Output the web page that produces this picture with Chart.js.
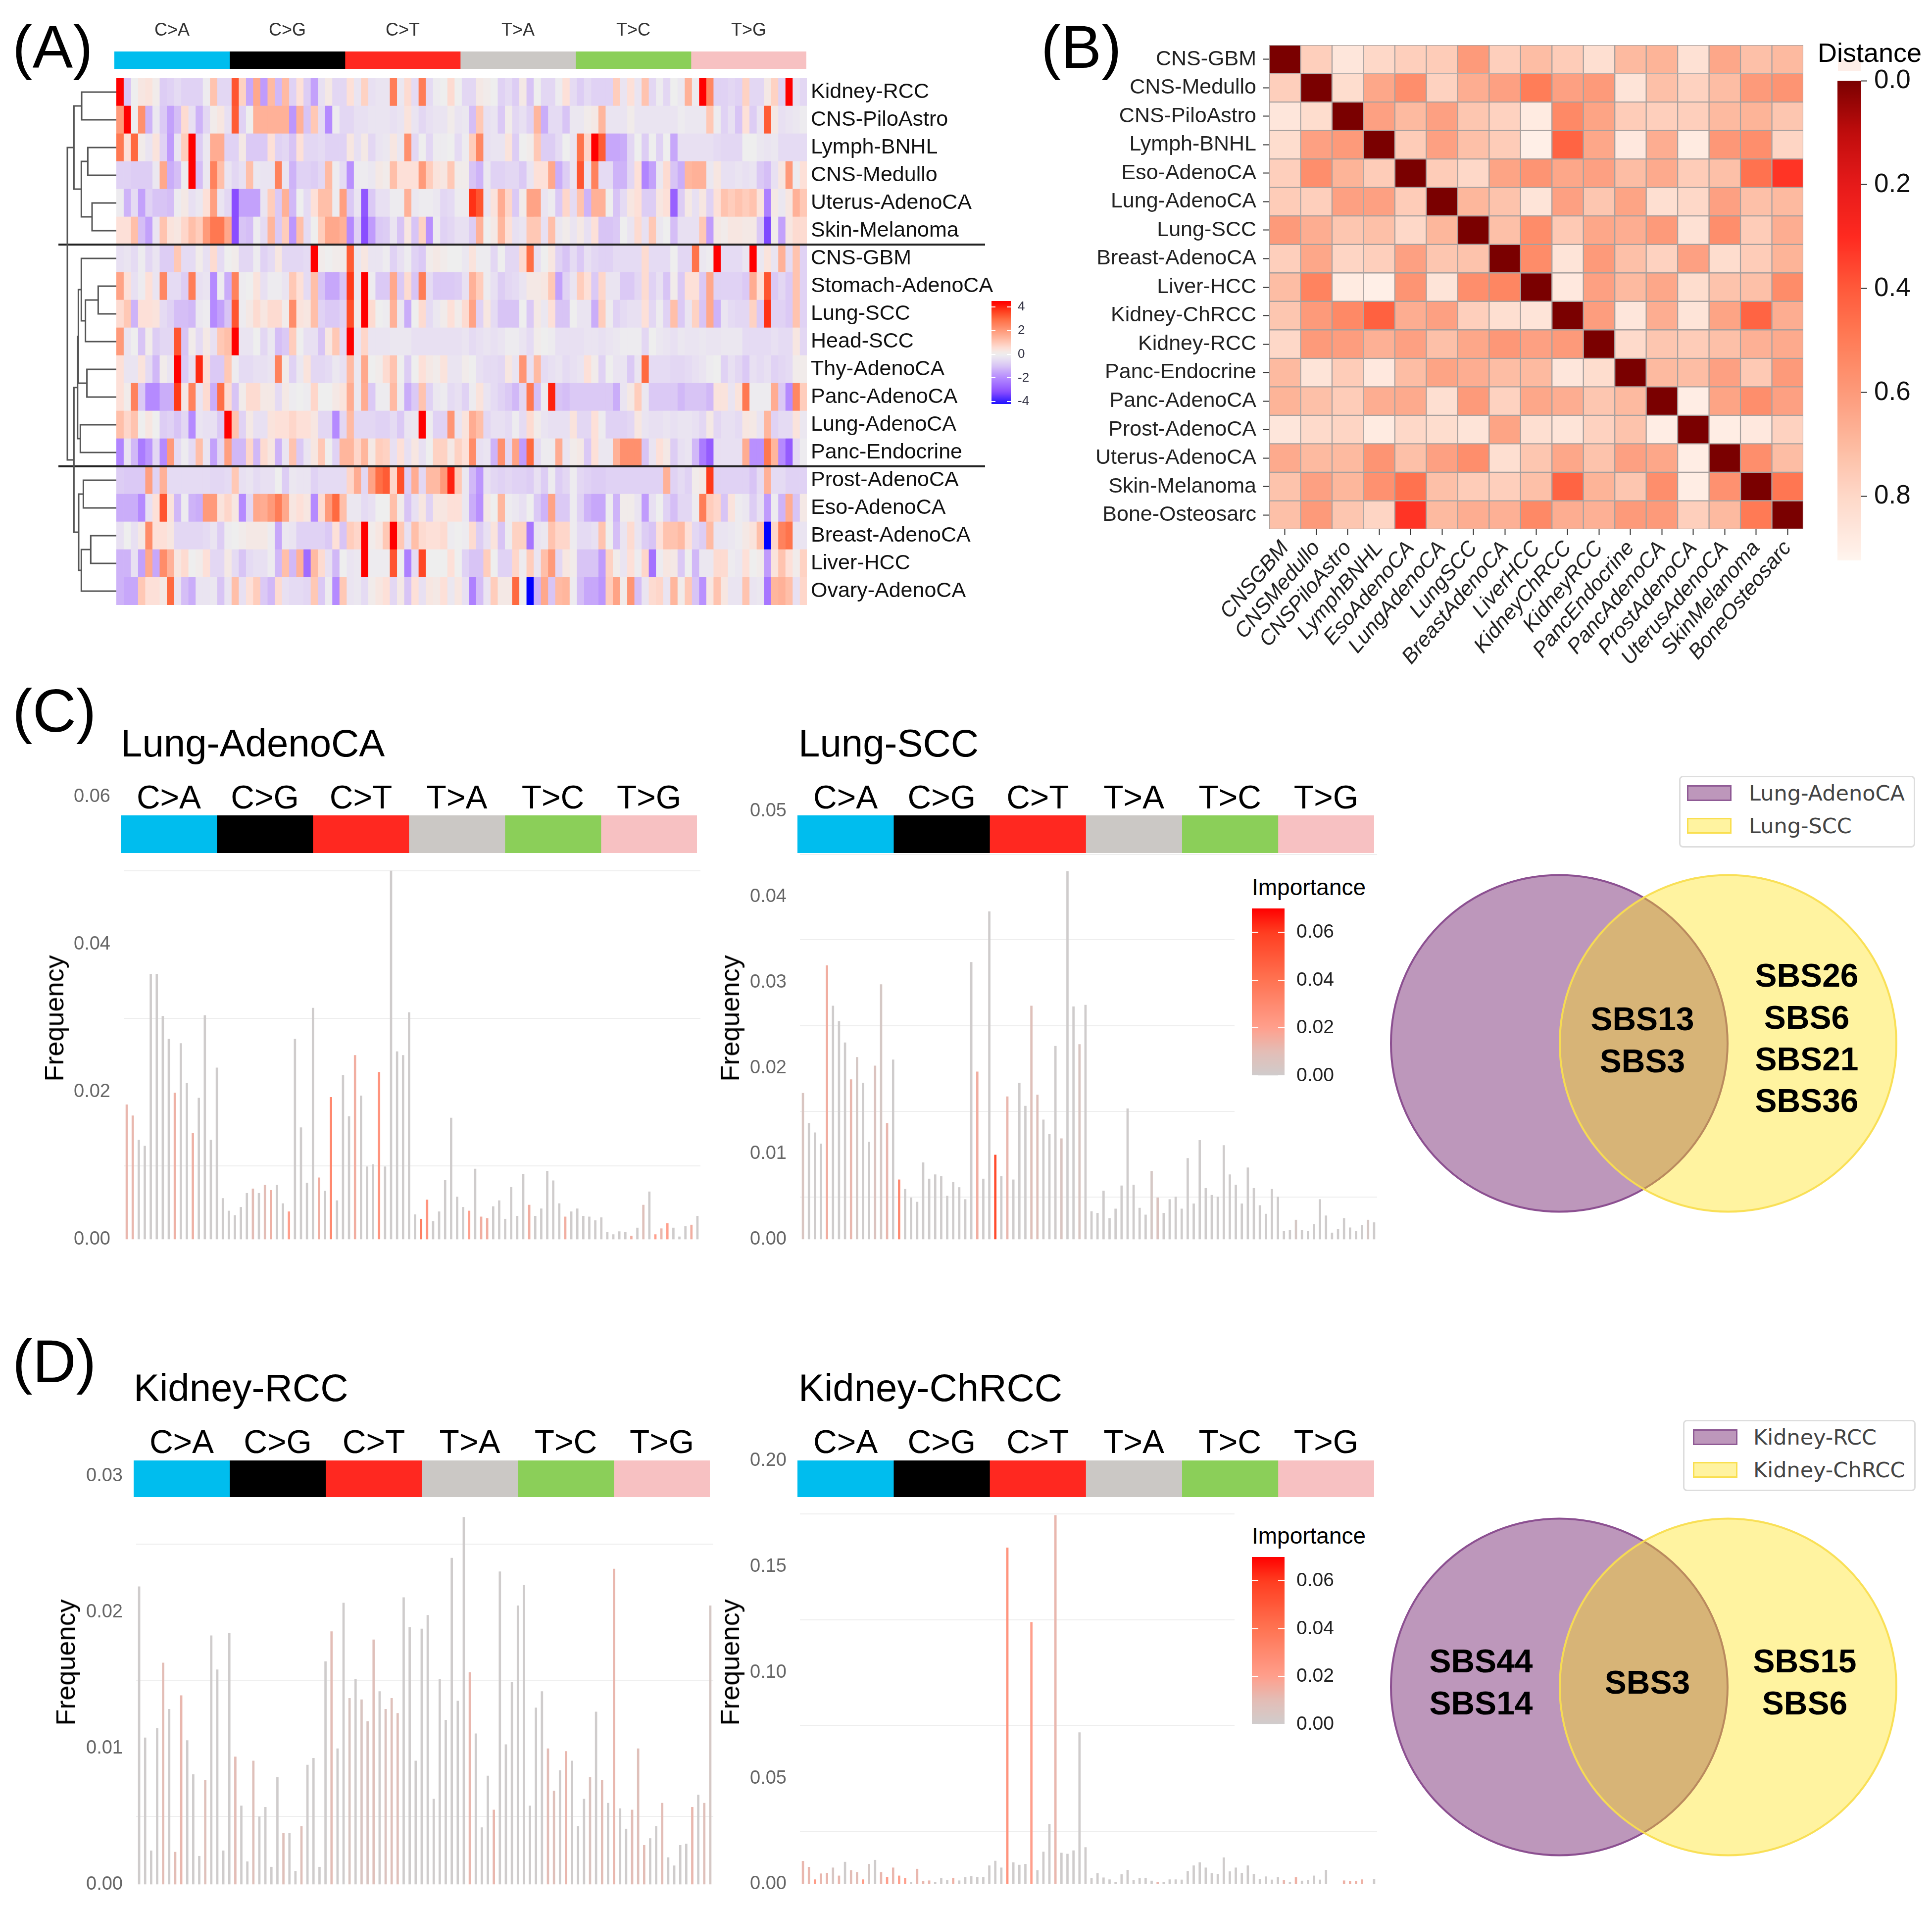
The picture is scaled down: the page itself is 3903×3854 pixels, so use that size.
<!DOCTYPE html>
<html lang="en">
<head>
<meta charset="UTF-8">
<title>Mutational signature panels</title>
<script src="https://cdn.jsdelivr.net/npm/chart.js"></script>
<style>
  body { margin: 0; background: #fff; position: relative; width: 3903px; height: 3854px; overflow: hidden; font-family: "Liberation Sans", sans-serif; }
  canvas { position: absolute; }
  .t { position: absolute; white-space: nowrap; line-height: 1; color: #000; }
</style>
</head>
<body>
<script>
// ---- data ----
const substitutionTypes = ['C>A', 'C>G', 'C>T', 'T>A', 'T>C', 'T>G'];
const substitutionWidths = [16, 16, 16, 16, 16, 16];
const substitutionColours = ['#00bdee', '#000000', '#ff2820', '#cbc8c5', '#8bcf59', '#f7c1c2'];

const heatRowNames = ['Kidney-RCC', 'CNS-PiloAstro', 'Lymph-BNHL', 'CNS-Medullo', 'Uterus-AdenoCA', 'Skin-Melanoma', 'CNS-GBM', 'Stomach-AdenoCA', 'Lung-SCC', 'Head-SCC', 'Thy-AdenoCA', 'Panc-AdenoCA', 'Lung-AdenoCA', 'Panc-Endocrine', 'Prost-AdenoCA', 'Eso-AdenoCA', 'Breast-AdenoCA', 'Liver-HCC', 'Ovary-AdenoCA'];

const zKidneyRCC = [4.4,-1,0,.3,.4,.1,-.8,-.7,-.5,-.7,-.7,-.7,-.1,1.1,-.6,-.6, 3.3,.8,-1.5,1.7,-1.7,1.3,-1.2,1.3,-.7,.5,-.8,-1.6,-.4,.2,-.6,-.6, .5,-.3,.8,-.4,-.3,-.3,2.6,-.2,.6,-.5,2.6,-.5,-.1,0,.6,0, -.6,-.6,.2,.1,0,-.7,-.5,-.8,.2,-1,0,-.6,-.6,-.1,.5,-.5, -.8,-.5,-.7,-.7,-.7,.9,-.3,.5,-.3,1.1,-.6,-.1,-.6,0,-.2,1.5, -.1,4.4,2.4,-.7,-.7,-.6,-.7,.8,-.6,-.6,.2,.8,-.7,4.4,-.4,-.6];
const zCNSPiloAstro = [2,4.4,0,2.2,-1.3,-.2,-.9,-1.6,-1.1,.6,-.4,-1.3,-.6,.1,.3,-.4, 3.2,-.7,0,1.5,1.5,1.5,1.5,1.5,-1.8,1.5,-1,1,-.5,-2,-.1,-.6, -.6,-.4,-.4,-.3,-.3,-.3,-.4,-.3,.4,-.3,-.6,-.4,-.3,-.3,.1,-.3, -.2,-1.1,1,-.4,-.3,-.9,.1,-.6,-.4,-.7,1.4,-1.4,-.5,-.5,-1,-.2, -.2,.1,.2,1.4,-.3,-.3,-.3,.1,-.3,-.3,-.3,-.3,-.3,-.3,-.1,-.2, -.2,-.2,1,-.1,-.7,-.4,-1,.5,-.8,-.3,3.2,.2,-.4,-.3,-.2,-.1];
const zLymphBNHL = [2.7,.5,3,.1,-.3,.4,-.7,-1.7,-.3,.9,4.4,-.8,-.2,1.6,1.6,-.7, -.7,.2,-.9,-.9,-.9,.5,-.7,-.6,-1,.5,-.6,-.6,-.5,-.7,-.7,-.7, .3,-.4,.2,-.6,-.3,-.2,.3,-.2,2.2,-.6,0,-.6,-.1,-.1,0,-.5, -.1,.9,2.4,-.4,-.3,-.3,.4,-.8,0,.1,1,-.8,-.8,-.5,0,-.3, 2.8,.7,4.5,3.2,-1.5,-1.5,-1.4,-.6,0,-.8,0,-.7,0,-1.5,-.4,-.4, -.4,-.4,-.4,-.5,-.6,-.6,-.6,0,0,-.2,-.3,-.2,-.5,-.5,-.5,-.5];
const zCNSMedullo = [-.7,-.7,-.8,-.8,-.8,-.2,1.7,-1.4,-1.1,-.1,4.4,-1.1,-.2,2.5,1.2,-.3, -.6,-.4,1.2,-.2,-.3,-.3,2.5,-.3,-1.3,-.7,-.7,-.8,-.6,1.3,-.1,-.5, -1.9,-.1,-.1,-.2,.2,.1,1.2,.5,.5,.5,2,.9,.4,.3,1,.1, .1,-1,-1.3,-.2,-.7,-.7,-.6,-.6,-.9,-.3,.5,.5,1.7,-1.4,-.8,-.3, 3.3,-.3,2.5,-.5,-.5,-1.3,-1.3,-.6,.5,-2.1,-1.6,-.2,.6,-1,-1.4,1.4, 1.5,1.5,-.2,.3,-.4,-.4,-.3,-.4,-.3,-.9,-1.1,-.4,.3,2,-.1,.5];
const zUterusAdenoCA = [-.1,-1.3,-.5,-1.6,-.7,-1,-1,-1.1,-.1,.2,-.4,-.2,.5,1.9,-.3,-.6, -3.2,-1.6,-1.6,-1.6,-.3,.9,-.9,1.5,-1.2,0,-.5,.5,1.2,1.2,-.1,1.9, -.9,-.3,-3,-.9,-.4,-.4,-.1,-.1,1.5,-.2,-.1,-.1,-.2,-.6,-.5,-.1, -.1,3.8,3.3,-.3,.4,1.6,.7,-.9,.1,1.8,1.8,-.3,-.1,-.9,.7,-.5, 1.1,-1.3,1.5,1.5,0,-1,-.5,.3,.5,-.8,-.8,.3,.5,-2.8,-.8,.2, -.4,.3,-.7,.5,1.1,.9,1.1,.9,1.1,.4,-2.2,.2,-.2,.3,1.5,1];
const zSkinMelanoma = [.5,.5,1.2,-1.1,-1.6,-.3,1.1,.4,.3,.7,1.2,.9,2,2.7,2.7,1.7, -3.2,-1,-1.1,-.1,-.5,1.4,-.9,.9,-1.8,1.2,-.5,0,.9,1.7,1.7,1.5, -2,-.7,-3.2,-1.7,-.9,-.8,-.3,-1,.3,-1,.8,-1.9,-.1,-.7,-.6,-.4, -.4,-.8,1.5,0,.2,1.4,.5,-.4,-.3,1,1,-.4,1.2,-.2,.1,-.3, .2,-.4,.5,-1,-1,-.9,0,-.3,.6,-.4,1,-.2,0,-1.1,-.4,-.4, -.4,1,-1.7,.2,.1,.3,.3,.2,.2,-.9,-3.3,.1,-1.6,.3,.6,.6];
const zCNSGBM = [-.4,-.3,-.5,-.1,-.6,-.3,-.8,-.8,1,-.5,-.5,.1,-.4,.6,-.5,0, .1,-.6,-.6,-.1,-.7,-.5,.3,-.6,-.6,-.6,-.5,4.4,.1,0,.1,.1, 3.2,-.2,.3,-.3,-.3,-.1,-.7,-.4,-.1,-.7,-.9,.1,.2,.1,0,0, -.2,.4,-.1,-.1,-.6,0,-.6,-.6,.6,2.9,-.4,0,.3,-.7,-1,-.5, -.9,-.4,-.6,-.7,-.7,-.5,-.5,-.5,-.5,.6,-.5,-.5,-.5,0,-.6,-.6, 2.8,-.2,-.1,4.4,-.5,-.5,-.5,-.3,4.4,-.2,.4,-.3,1.5,-.5,1.1,-.7];
const zStomachAdenoCA = [1.8,.5,-.4,-.1,.5,-.3,2.4,-.5,-.5,-.8,2.6,-.4,-.3,-2,-.1,-1.4, 2.5,-.1,0,.4,-.4,-.1,-.1,-.3,1,.5,-.5,1.2,-1,-1.5,-1.5,-1, 3.7,-.2,4.4,-.1,-.9,-.9,1.7,-.9,.6,-1,2.6,-.5,-.9,-.9,-.9,-.8, -.4,1.5,.9,-.1,-.4,-.8,-.6,-.5,-.3,.2,.2,.3,1,-1.6,-.7,-.3, .9,.5,-.9,.7,-.3,-.3,-.9,-.9,-.6,.6,-.7,-.4,-1,.1,-.9,.5, .5,-.9,1.7,-.7,-.7,-.7,-.7,-.9,1.6,.5,3.3,-.9,-.6,-.9,1.1,-.7];
const zLungSCC = [.6,1,-1.3,.5,.5,.4,-.5,-.7,-1.1,-1.1,-1.2,-.2,-.1,-2,-1.6,-1, 3.3,-.1,.2,.6,.3,.6,.6,.1,2.3,.4,.3,1.2,-.7,-.9,-.9,-.7, 3.4,.1,4.4,.6,0,-.1,1.5,-.2,-1.4,0,.6,-.5,-.2,.1,.5,.1, .6,1.8,-.7,.3,-.5,-1,-1,-1,0,-.9,.2,-.2,.5,-1,-1,0, -.3,-.3,-1.4,.9,-.1,-.7,-.5,-.4,-.4,.5,-.6,-.1,-.7,1.2,-.9,-.3, .8,-1,1.7,-1.3,-.3,-.5,-.6,-.6,.8,-.9,3.8,-.7,-.7,-.9,1.1,-.7];
const zHeadSCC = [2,-.3,0,-1,.1,-.8,-.6,-.6,3.3,-1,.1,-.5,.2,-.4,1,1.2, 4.4,-.3,-.3,0,-.6,-.2,-1.1,-.9,.9,0,-.4,-.4,-1,.3,1,-.6, 4.4,-.3,.7,-.3,-.3,-.3,-.2,-.2,-.2,-.4,-.4,-.4,-.4,-.4,-.4,-.4, -.3,-.5,-.4,-.3,-.4,-.3,-.1,-.1,-.3,-.5,.1,0,-.1,-.4,-.4,-.4, -.4,-.3,-.3,-.4,-.3,-.2,-.1,-.1,-.1,-.6,0,-.2,-.3,-.4,-.2,-.3, -.3,-.2,-.3,-.3,-.2,-.2,-.2,-.5,-.5,-.5,-.5,-.4,-.5,-.5,.3,-.6];
const zThyAdenoCA = [.5,-.3,-.3,.4,-.5,-1.2,.1,-.3,4.4,-.9,-.4,3.9,.5,-.9,-.9,1, -.1,-.5,-.5,-.4,-.4,-.3,2.5,.1,-.7,-.2,.4,-.6,-.6,-.5,-.2,-.4, 1.3,-.2,1.7,0,.1,.6,1.1,0,-.8,0,.5,.2,.1,.4,-.3,-.3, .1,0,-.4,-.5,-.5,-.6,.3,-.3,2.1,-.4,1.3,-.5,-.4,-.3,-.5,-.4, -.3,.5,.1,-.7,0,-.3,-.3,-.9,-.3,3,-.5,-.5,-.5,-.6,-.6,-.5, -.4,-.3,-.1,0,-.7,-.4,-.6,-.9,-.4,-.5,-.4,-.7,-.6,-.5,.1,.1];
const zPancAdenoCA = [.5,.1,2.5,-.9,-2,-2,-1.4,-1.4,3.7,.2,2.5,-.3,.6,-1.4,2.9,.6, -1,.1,.6,.6,.2,.2,-.5,.2,-.1,0,-.1,.7,0,0,.2,.4, 1.6,-.2,1.6,-.9,-.1,-.1,1.3,-.1,-1.4,-.9,1.1,-.7,-.2,-.1,-.5,-.4, -.7,-.1,.4,-.3,-.5,-.7,-.9,-1.2,-.6,2.7,-1.1,-.1,4,-1,-1.1,-.9, -.9,-.9,-.9,-.9,-.9,-1.4,-.3,.2,.9,-.2,-.9,-.9,-.9,-.9,-1.2,-1, -1,-1,-1.2,.4,.4,-.3,.4,2.7,-.1,-.1,-.1,1.6,-.9,-2,2.4,.9];
const zLungAdenoCA = [1.2,.7,1.1,0,.3,0,-.8,-.7,-1,-.6,-2,-.3,-.4,-.4,-.9,4.4, 1.1,-.7,.2,-.4,-.4,.4,.5,.5,.7,.5,.5,.3,-.6,-.6,-2,-.6, 1.3,-.6,-.6,-.6,-.7,-.7,-.5,-.9,-.3,-.2,4.4,-.1,-.7,-.7,2.1,-.3, .4,1.6,1.2,-.6,-.4,-.4,-.5,-.1,-.5,.6,.1,-.3,-.4,-.4,-.4,.4, -.6,-.6,.5,-.1,-.7,-.7,-.7,-.6,.3,-.3,-.4,-.4,-.3,-.4,-.3,-.3, -.4,-.6,.2,-.6,-.4,-.4,-.5,.3,.2,-.3,1.4,-.7,-.5,-.5,.4,-.2];
const zPancEndocrine = [-2.1,-.3,-1.2,-2.3,-1.8,-.6,-2,2,-.5,-.1,-.5,1.2,-.3,-1.6,-.6,1.9, -1.2,-1.2,.7,-1.2,.6,.3,-1.3,-.3,1.1,-.9,-.3,.3,1,0,-.7,1.4, 1.4,.7,1.4,.2,.9,.8,-.4,.5,-.4,.3,-.4,0,.8,.8,.2,.8, .5,2.3,-.4,-.3,-1.3,2.2,-.6,1.8,-1.7,3,-.5,-.1,-.1,1.6,-.3,.1, .2,-.9,.5,-.2,-.2,1.5,2.2,2.2,2.2,-1,-.3,.5,.2,-.8,-.4,-.3, -1.2,-2.3,-2.9,-.4,-.4,-.4,-.4,1.6,-1.9,-1.9,2.7,1.4,-2,-2.9,-.5,-.1];
const zProstAdenoCA = [-.8,-.9,-.9,-.9,1.9,-.7,1.5,-.5,-.5,-.5,-.5,-.5,-.5,-.6,-.6,-.5, 1,-.4,-.3,-.5,-.4,-.4,0,-.8,-.2,-.3,-.3,-.7,-.5,-.5,-.5,-.5, .7,1.6,-.6,1.8,2.9,3.2,.7,3.4,-.8,1.6,-.6,1.3,1.3,2,4,1, -.2,-1.2,-1.8,-.4,-.6,-.7,-.6,-.7,-.7,-.8,-.4,-.8,-.1,-.8,-.6,-.1, -.6,-.7,-.8,-.8,-.7,-.7,-.7,-.7,-.7,-.7,-.7,-.7,1.5,-.7,-.5,-.7, .1,.2,3.7,-.7,-.7,-.7,-.7,-.7,-1,-.5,1.5,-.5,-.5,-.7,-.7,-.7];
const zEsoAdenoCA = [-1.4,-1.4,-1.4,-2,-.4,.5,3.3,.4,-1.2,-.1,-1.3,-1.4,2,2,.4,.7, .3,-2,-.6,1.7,1.6,2,2.6,1.7,.3,.5,.3,-2,.6,2,3,1.2, -.2,-.2,-.5,-.4,0,0,1.2,.1,-1,-.4,.3,-.7,.3,.3,.5,.5, -.2,-1.4,-1.9,.2,0,1.4,-.1,-.2,-.4,0,-.9,-1.3,1.8,-.9,-.9,-.1, -.7,-1.3,-1.5,-1.5,-.1,-1.3,.1,.1,-.3,-1.7,-.4,0,-.7,-1.1,-.6,-.6, -.1,2.6,.9,.7,-1,.4,-.1,-.2,-.8,-.4,-1.7,-.1,-1.3,1.6,-1,.2];
const zBreastAdenoCA = [-.4,0,-.4,.2,2.3,.5,.5,.3,-.6,-.6,-.6,-.6,-.5,-.3,-.8,-.1, 0,.1,.2,.2,.2,-.1,-1.5,-.2,-.3,-.7,-.7,-.7,-.7,-.9,.5,-1, .9,.7,4.4,.1,.3,1,4.4,1,-.4,1.2,.6,.5,.5,.6,-.1,0, -.1,.6,-.8,-.4,.4,-1,-.1,.8,.8,-2.4,-.3,-.2,1.1,.7,.7,-.1, -.5,-.5,-.4,1.1,0,-1.1,-.3,.6,-.3,-.8,-1,.5,1.1,1.1,1.3,.5, -.6,-.8,1.3,-.3,-.3,-.2,-.1,.2,.4,1.2,-4.5,.7,2.5,2.8,-.3,-.3];
const zLiverHCC = [-1.3,-1.3,-.4,-1.6,1.7,-1.5,2.3,1.5,.3,.6,0,.1,.5,-.6,-.6,.2, -.5,-1,-.5,-.4,-.4,-.1,-1.2,1.2,-1.2,1.5,-2.6,1.3,.6,-.4,-1.2,0, -.3,-.2,4.4,-.1,-.1,-.1,3.3,0,-2.2,-.5,3.5,0,0,0,.5,0, -.7,-1,-1,.9,0,-.7,-.7,.7,-.1,.9,-.3,1.2,2,-.6,.3,.1, -1,-1,-1,-1.7,.8,.1,-.3,.5,-.1,.7,-2.5,-.1,.3,.2,-.9,0, -1.2,-.2,-.2,.6,.6,-.1,-.2,.5,0,.1,-1.7,.4,1.1,.5,.1,.8];
const zOvaryAdenoCA = [-1.3,-1.5,-1.5,1,.5,.5,.2,3,-.3,-1.1,-1.4,-.3,-.3,-.2,-1,-.3, 1.2,-.4,.5,.9,-.9,-1.2,.6,-.4,-.5,-.5,-.6,1,-.9,-.1,-2,1, -.3,-.2,-.5,.1,.3,.5,-.6,.2,-1,.5,-.4,.3,.2,.5,-.2,.3, -.4,-2.2,-1.1,-.3,.9,.2,.2,3,0,-4.5,-1.3,1.7,-1,1.3,1.4,-.1, -1.1,-1.5,-1.5,-1.8,.9,1.8,.1,2.1,-1.1,-.3,.6,.7,-.3,1.4,.1,1, -1,-1.9,.3,1.1,.3,-.3,-.3,1.1,-.3,-.2,-2.4,1.4,1.5,1.2,-.4,.7];
const heatRows = [zKidneyRCC, zCNSPiloAstro, zLymphBNHL, zCNSMedullo, zUterusAdenoCA, zSkinMelanoma, zCNSGBM, zStomachAdenoCA, zLungSCC, zHeadSCC, zThyAdenoCA, zPancAdenoCA, zLungAdenoCA, zPancEndocrine, zProstAdenoCA, zEsoAdenoCA, zBreastAdenoCA, zLiverHCC, zOvaryAdenoCA];
const heatTicks = [-4, -2, 0, 2, 4];

// dendrogram of panel A: [child, child, height], leaves are 0-18, merges number on from 19
const dendroMerges = [[0,1,.707],[2,3,.582],[4,5,.495],[20,21,.714],[19,22,.865],[7,8,.37],[24,9,.63],[6,25,.714],[10,11,.6],[12,13,.734],[26,27,.774],[28,29,.79],[14,15,.673],[16,17,.522],[32,18,.714],[31,33,.768],[30,34,.865],[23,35,1]];
const clusterBreaks = [6, 14];

const distanceNames = ['CNS-GBM', 'CNS-Medullo', 'CNS-PiloAstro', 'Lymph-BNHL', 'Eso-AdenoCA', 'Lung-AdenoCA', 'Lung-SCC', 'Breast-AdenoCA', 'Liver-HCC', 'Kidney-ChRCC', 'Kidney-RCC', 'Panc-Endocrine', 'Panc-AdenoCA', 'Prost-AdenoCA', 'Uterus-AdenoCA', 'Skin-Melanoma', 'Bone-Osteosarc'];
const distanceShortNames = ['CNSGBM', 'CNSMedullo', 'CNSPiloAstro', 'LymphBNHL', 'EsoAdenoCA', 'LungAdenoCA', 'LungSCC', 'BreastAdenoCA', 'LiverHCC', 'KidneyChRCC', 'KidneyRCC', 'PancEndocrine', 'PancAdenoCA', 'ProstAdenoCA', 'UterusAdenoCA', 'SkinMelanoma', 'BoneOsteosarc'];
const distGBM = [0,.77,.86,.8,.77,.76,.6,.77,.71,.76,.83,.7,.68,.84,.64,.72,.7];
const distMedullo = [.77,0,.82,.64,.56,.78,.66,.62,.5,.62,.6,.85,.72,.78,.71,.6,.58];
const distPilo = [.86,.82,0,.62,.7,.62,.74,.78,.88,.54,.63,.76,.77,.77,.7,.68,.74];
const distLymph = [.82,.62,.6,0,.76,.62,.72,.76,.9,.43,.64,.87,.66,.88,.59,.56,.79];
const distEso = [.77,.56,.68,.76,0,.76,.8,.63,.58,.64,.62,.71,.65,.76,.72,.47,.32];
const distLungAdeno = [.76,.77,.62,.62,.76,0,.69,.73,.85,.62,.74,.63,.83,.8,.62,.72,.7];
const distLungScc = [.6,.66,.74,.72,.8,.69,0,.72,.55,.75,.64,.66,.6,.84,.56,.76,.66];
const distBreast = [.77,.64,.79,.77,.62,.74,.73,0,.55,.85,.6,.72,.78,.62,.82,.76,.68];
const distLiver = [.71,.52,.88,.9,.58,.85,.56,.53,0,.87,.62,.7,.64,.82,.73,.72,.55];
const distChrcc = [.74,.6,.54,.42,.66,.62,.77,.83,.85,0,.61,.86,.66,.85,.63,.43,.66];
const distRcc = [.8,.6,.61,.67,.62,.72,.64,.59,.62,.6,0,.81,.74,.76,.72,.67,.65];
const distEndocrine = [.7,.85,.76,.87,.71,.63,.66,.71,.7,.86,.82,0,.7,.71,.62,.75,.6];
const distPancAdeno = [.68,.72,.76,.66,.65,.83,.6,.78,.64,.66,.74,.7,0,.89,.63,.56,.62];
const distProst = [.86,.81,.79,.88,.8,.82,.85,.63,.83,.85,.78,.73,.89,0,.89,.87,.78];
const distUterus = [.65,.7,.7,.58,.72,.62,.56,.83,.74,.64,.73,.62,.64,.89,0,.56,.71];
const distSkin = [.73,.62,.69,.57,.47,.72,.76,.77,.72,.43,.68,.74,.56,.89,.57,0,.48];
const distBone = [.72,.6,.74,.79,.32,.7,.66,.67,.54,.66,.67,.6,.6,.77,.7,.49,0];
const distanceRows = [distGBM, distMedullo, distPilo, distLymph, distEso, distLungAdeno, distLungScc, distBreast, distLiver, distChrcc, distRcc, distEndocrine, distPancAdeno, distProst, distUterus, distSkin, distBone];
const distanceTicks = [0, .2, .4, .6, .8];

const lungAdenoFreq = [.0183,.0168,.0135,.0127,.036,.036,.0303,.0272,.0199,.0266,.0212,.0144,.0192,.0304,.0135,.0233,.0056,.0039,.0033,.0044,.0063,.0069,.0063,.0074,.0067,.0074,.0049,.0038,.0272,.0152,.0077,.0314,.0084,.0066,.0193,.0053,.0223,.0167,.025,.0195,.0099,.0102,.0227,.0099,.05,.0255,.025,.0308,.0034,.0028,.0054,.0025,.0038,.0081,.0165,.0058,.0044,.0039,.0096,.0031,.0029,.0045,.0053,.0028,.0071,.0032,.0089,.0047,.0032,.0042,.0093,.008,.0049,.0031,.0038,.0042,.0032,.0031,.0026,.003,.001,.0007,.0011,.001,.0005,.0016,.0047,.0065,.0007,.0015,.0022,.0016,.0004,.0018,.002,.0032];
const lungAdenoImp = [.012,.012,0,0,0,0,0,0,.014,0,0,.014,0,0,0,0,0,0,0,0,0,.01,0,.01,.014,0,0,.02,0,0,0,0,.015,0,.03,0,0,0,.015,0,0,0,.025,0,0,0,0,0,0,.035,.025,0,0,0,0,0,0,.02,0,.015,.015,0,0,0,0,0,0,.015,0,0,0,0,0,.015,0,0,0,0,0,0,0,0,0,0,.015,0,.008,0,.02,.012,.02,0,0,0,.015,0];
const lungAdenoTicks = [0,.01,.02,.03,.04,.05,.06];

const lungSccFreq = [.0171,.0136,.0125,.0112,.032,.0273,.0255,.023,.0187,.0213,.0183,.0114,.0203,.0298,.0136,.021,.007,.0059,.0049,.0044,.009,.0071,.0076,.0074,.0051,.0067,.0061,.0047,.0324,.0196,.0071,.0383,.0099,.0074,.0167,.007,.0183,.0156,.0273,.0169,.014,.0123,.0226,.0118,.043,.0272,.0228,.0274,.0033,.0031,.0057,.0025,.0036,.0063,.0153,.0064,.0037,.0029,.008,.0049,.0031,.0047,.005,.0036,.0095,.0042,.0116,.006,.0052,.005,.011,.0076,.0064,.0042,.0084,.006,.004,.003,.0059,.005,.001,.0011,.0023,.0011,.001,.0018,.0047,.0028,.0008,.0012,.0025,.0014,.001,.0017,.0023,.002];
const lungSccImp = [.005,0,0,0,.015,0,0,0,.012,.003,0,0,.006,.003,.012,0,.03,0,0,0,0,0,0,0,0,0,0,0,0,.015,0,0,.055,0,.012,0,0,0,.008,.008,0,0,0,.005,0,0,.005,0,0,0,0,0,0,0,0,0,0,0,.003,.006,0,0,0,0,0,0,0,0,0,0,0,0,0,0,0,0,0,0,0,0,0,0,.003,0,0,0,0,0,0,0,0,0,0,0,.003,0];
const lungSccTicks = [0,.005,.01,.015,.02,.025,.03,.035,.04,.045,.05];

const kidneyRccFreq = [.0219,.0108,.0025,.0115,.0163,.0129,.0024,.0139,.0106,.0081,.0021,.0077,.0183,.0158,.0025,.0185,.0094,.0058,.0017,.0091,.005,.0057,.0013,.0079,.0038,.0038,.001,.0043,.0088,.0093,.0013,.0164,.0186,.01,.0207,.0137,.0151,.0136,.012,.018,.0142,.0129,.0137,.0126,.0211,.0189,.0091,.0188,.0198,.0063,.0151,.0121,.024,.0135,.027,.0156,.0111,.0042,.008,.0055,.023,.0103,.0149,.0205,.022,.0058,.013,.0142,.01,.0069,.0084,.0098,.0091,.0043,.0063,.0079,.0127,.0077,.006,.0232,.0056,.0041,.0055,.01,.0029,.0034,.0043,.006,.002,.0014,.0029,.003,.0057,.0066,.006,.0205];
const kidneyRccImp = [0,0,0,0,.01,0,.01,.012,0,0,0,.008,0,0,0,0,.01,0,0,.008,0,0,0,0,.008,0,0,.008,0,0,0,0,.01,0,0,.005,0,.005,.005,.008,0,.006,.008,.008,0,0,0,0,0,0,0,0,0,0,0,.012,0,0,0,.012,0,0,0,0,0,0,0,0,.01,.008,0,.012,0,0,0,.006,0,.01,0,.012,0,0,.01,.008,.01,0,0,.01,0,0,0,0,.012,0,.008,.003];
const kidneyRccTicks = [0,.005,.01,.015,.02,.025,.03];

const kidneyChrccFreq = [.0109,.0081,.0022,.005,.0053,.0078,.004,.0105,.0066,.0057,.0022,.0095,.0114,.0057,.0034,.0078,.004,.0029,.001,.0072,.0014,.0017,.001,.0029,.0019,.0029,.0017,.0033,.0038,.0034,.0034,.0088,.011,.0078,.159,.0103,.0091,.0095,.1238,.0066,.0153,.0284,.1743,.0148,.0143,.0159,.0717,.0174,.0029,.0052,.0031,.0022,.001,.0047,.0067,.0019,.0028,.0029,.0016,.0009,.001,.0022,.0022,.0021,.0062,.0088,.0103,.0078,.0052,.0048,.0126,.006,.0078,.0053,.0088,.0048,.0024,.0036,.0021,.0033,.0019,.001,.0033,.0016,.0019,.004,.0021,.0067,0,0,.0017,.0014,.0014,.0022,0,.0024];
const kidneyChrccImp = [.012,.012,.022,.012,.012,.004,.012,0,.01,.01,.022,.003,0,.012,.02,.012,.02,.02,0,.012,.012,.012,0,0,0,.014,0,0,0,0,0,0,0,0,.025,0,0,0,.02,0,0,0,.012,0,0,0,0,0,0,0,0,0,0,0,0,0,0,0,0,.012,0,0,0,0,0,0,0,0,0,0,0,0,0,0,0,0,0,0,0,0,.012,0,.014,0,0,0,0,0,0,0,.014,.014,.014,.014,0,0];
const kidneyChrccTicks = [0,.025,.05,.075,.1,.125,.15,.175,.2];

const importanceTicks = [0, .02, .04, .06];

// ---- colour ramps ----
const heatStops = [[-4.5,'#0000ff'],[-3.2,'#8a4dff'],[-2,'#b58aff'],[-1,'#d8c4f5'],[-.4,'#e8e0f2'],[0,'#eeeeee'],[.5,'#fde0d8'],[1,'#ffc8b5'],[2,'#ff9a7a'],[3,'#ff6a40'],[3.7,'#ff3a1a'],[4.4,'#ff0000']];
const distanceStops = [[0,'#7a0000'],[.1,'#c00d0d'],[.2,'#e61a1a'],[.3,'#ff2a20'],[.4,'#ff5a3a'],[.5,'#ff7d58'],[.6,'#fd9a7a'],[.7,'#fdbaa0'],[.8,'#fed8c8'],[.925,'#fff5ef']];
const importanceStops = [[0,'#cfcccc'],[.01,'#e3bdb6'],[.02,'#ff9f8c'],[.04,'#ff7352'],[.06,'#ff3d20'],[.07,'#ff0000']];

function rgb(hex) {
  return [1, 3, 5].map(i => parseInt(hex.slice(i, i + 2), 16));
}
function ramp(stops, v) {
  if (v <= stops[0][0]) return stops[0][1];
  for (let i = 1; i < stops.length; i++) {
    if (v <= stops[i][0]) {
      const f = (v - stops[i - 1][0]) / (stops[i][0] - stops[i - 1][0]);
      const a = rgb(stops[i - 1][1]), b = rgb(stops[i][1]);
      return `rgb(${a.map((c, k) => Math.round(c + (b[k] - c) * f)).join(',')})`;
    }
  }
  return stops[stops.length - 1][1];
}

// ---- helpers ----
Chart.defaults.font.family = '"Liberation Sans", sans-serif';
Chart.defaults.plugins.legend.display = false;
Chart.defaults.plugins.tooltip.enabled = false;
Chart.defaults.animation = false;
Chart.defaults.responsive = false;
Chart.defaults.devicePixelRatio = 1;
Chart.defaults.events = [];

function place(left, top, width, height) {
  const c = document.createElement('canvas');
  c.width = width;
  c.height = height;
  c.style.left = left + 'px';
  c.style.top = top + 'px';
  document.body.appendChild(c);
  return c;
}

function text(str, x, y, size, o = {}) {
  const d = document.createElement('div');
  d.className = 't';
  d.textContent = str;
  d.style.left = x + 'px';
  d.style.top = y + 'px';
  d.style.fontSize = size + 'px';
  if (o.weight) d.style.fontWeight = o.weight;
  if (o.color) d.style.color = o.color;
  if (o.family) d.style.fontFamily = o.family;
  d.style.transform = o.rotate ? `translate(-50%,-50%) rotate(${o.rotate}deg)` : (o.center ? 'translate(-50%,-50%)' : 'translate(0,-50%)');
  document.body.appendChild(d);
}

function box(left, top, width, height, css) {
  const d = document.createElement('div');
  d.style.cssText = `position:absolute;box-sizing:border-box;left:${left}px;top:${top}px;width:${width}px;height:${height}px;${css}`;
  document.body.appendChild(d);
}

// fixed width vertical axis whose labels do not eat into the plot height
function fixVertical(width) {
  return s => {
    s.width = width;
    s.paddingTop = 0;
    s.paddingBottom = 0;
  };
}

// stacked horizontal bars, one dataset per column, give a grid of cells
function cellDatasets(rows, colour, extra) {
  return rows[0].map((_, c) => Object.assign({
    data: rows.map(() => 1),
    backgroundColor: rows.map(r => colour(r[c])),
    barPercentage: 1,
    categoryPercentage: 1
  }, extra));
}

function strip(left, top, width, height, labelSize, padding, labelColor) {
  const space = labelSize * 2;
  const edges = substitutionWidths.map((w, i) => substitutionWidths.slice(0, i).reduce((a, b) => a + b, 0) + w / 2);
  new Chart(place(left, top - space, width, height + space), {
    type: 'bar',
    data: {
      labels: [''],
      datasets: substitutionWidths.map((w, i) => ({ data: [w], backgroundColor: substitutionColours[i], barPercentage: 1, categoryPercentage: 1 }))
    },
    options: {
      indexAxis: 'y',
      layout: { padding: 0 },
      scales: {
        y: { display: false, stacked: true },
        x: {
          stacked: true, position: 'top', min: 0, max: 96,
          afterBuildTicks: s => { s.ticks = edges.map(v => ({ value: v })); },
          afterFit: s => { s.height = space; s.paddingLeft = 0; s.paddingRight = 0; },
          grid: { display: false, drawTicks: false }, border: { display: false },
          ticks: { autoSkip: false, maxRotation: 0, padding, color: labelColor, font: { size: labelSize }, callback: (v, i) => substitutionTypes[i] }
        }
      }
    }
  });
}

function spectrum(plotLeft, plotRight, yTop, yBottom, freq, imp, ticks) {
  const axis = 250, above = 40, below = 30;
  new Chart(place(plotLeft - axis, yTop - above, plotRight - plotLeft + axis, yBottom - yTop + above + below), {
    type: 'bar',
    data: {
      labels: freq.map((_, i) => i + 1),
      datasets: [{ data: freq, backgroundColor: imp.map(v => ramp(importanceStops, v)), barThickness: 4 }]
    },
    options: {
      layout: { padding: { top: above, bottom: below } },
      scales: {
        x: { display: false },
        y: {
          min: ticks[0], max: ticks[ticks.length - 1],
          afterBuildTicks: s => { s.ticks = ticks.map(v => ({ value: v })); },
          afterFit: fixVertical(axis),
          border: { display: false },
          grid: { drawTicks: false, lineWidth: 2, color: c => (c.index % 2 ? '#eeeeee' : 'rgba(0,0,0,0)') },
          ticks: { autoSkip: false, padding: 27, color: '#666', font: { size: 38 }, callback: (v, i) => (i % 2 ? '' : v.toFixed(2)) }
        }
      }
    }
  });
}

function colourBar(o) {
  new Chart(place(o.left, o.top - o.above, o.width + o.axis, o.height + o.above + o.below), {
    type: 'bar',
    data: {
      labels: [''],
      datasets: [{
        data: [[o.min, o.max]],
        barPercentage: 1,
        categoryPercentage: 1,
        backgroundColor: c => {
          const chart = c.chart;
          if (!chart.chartArea) return 'rgba(0,0,0,0)';
          const y = chart.scales.y, p0 = y.getPixelForValue(o.min), p1 = y.getPixelForValue(o.max);
          const g = chart.ctx.createLinearGradient(0, p0, 0, p1);
          for (let i = 0; i <= 40; i++) g.addColorStop(i / 40, ramp(o.stops, o.min + (o.max - o.min) * i / 40));
          return g;
        }
      }]
    },
    options: {
      layout: { padding: { top: o.above, bottom: o.below } },
      scales: {
        x: { display: false },
        y: {
          min: o.min, max: o.max, reverse: !!o.reverse, position: 'right',
          afterBuildTicks: s => { s.ticks = o.ticks.map(v => ({ value: v })); },
          afterFit: fixVertical(o.axis),
          border: { display: false, dash: o.dash || [] },
          grid: o.grid,
          ticks: { autoSkip: false, padding: o.padding, color: o.color, font: { size: o.size }, callback: v => v.toFixed(o.digits) }
        }
      }
    }
  });
}

function venn(left, top) {
  new Chart(place(left, top, 1090, 725), {
    type: 'scatter',
    data: {
      datasets: [
        { data: [{ x: 0, y: 0 }], order: 2, clip: false, pointRadius: 340, pointBackgroundColor: 'rgba(123,47,119,.5)', pointBorderColor: 'rgba(140,80,145,1)', pointBorderWidth: 4 },
        { data: [{ x: 1, y: 0 }], order: 1, clip: false, pointRadius: 340, pointBackgroundColor: 'rgba(255,225,17,.4)', pointBorderColor: 'rgba(249,222,80,.95)', pointBorderWidth: 4 }
      ]
    },
    options: {
      layout: { autoPadding: false },
      scales: {
        x: { display: false, min: -360 / 341, max: 730 / 341 },
        y: { display: false, min: -1, max: 1 }
      }
    }
  });
}

function vennLegend(left, top, width, height, swatchLeft, textLeft, rows) {
  box(left, top, width, height, 'background:#fff;border:3px solid #dddddd;border-radius:8px');
  const tops = [top + 35, top + 101];
  rows.forEach((name, i) => {
    box(swatchLeft, tops[i] - 16, 90, 32, i === 0 ? 'background:#bd97bb;border:3px solid #8f5a95' : 'background:#fff3a0;border:3px solid #f9df50');
    text(name, textLeft, tops[i], 43, { family: '"DejaVu Sans"', color: '#444' });
  });
}

// ---- panel A ----
new Chart(place(230, 150, 1800, 1080), {
  type: 'bar',
  data: { labels: heatRowNames, datasets: cellDatasets(heatRows, v => ramp(heatStops, v)) },
  options: {
    indexAxis: 'y',
    layout: { padding: { left: 5, top: 8, bottom: 8 } },
    scales: {
      x: { display: false, stacked: true, min: 0, max: 96 },
      y: {
        stacked: true, position: 'right',
        afterFit: fixVertical(400),
        grid: { display: false }, border: { display: false },
        ticks: { autoSkip: false, padding: 0, color: '#111', font: { size: 43 } }
      }
    }
  }
});

strip(231, 104, 1398, 35, 36, 20, '#333');

// dendrogram and the cluster separators
const dendroNodes = heatRowNames.map((_, i) => ({ y: i + .5, h: 0 }));
const dendroSets = dendroMerges.map(([a, b, h]) => {
  const na = dendroNodes[a], nb = dendroNodes[b];
  dendroNodes.push({ y: (na.y + nb.y) / 2, h });
  return {
    data: [{ x: na.h, y: na.y }, { x: h, y: na.y }, { x: h, y: nb.y }, { x: nb.h, y: nb.y }],
    showLine: true, pointRadius: 0, borderColor: '#555', borderWidth: 3
  };
});
const dendroMax = 1 + 18 / 99, dendroMin = -(1990 - 235) / 99;
clusterBreaks.forEach(b => dendroSets.push({
  data: [{ x: dendroMax, y: b }, { x: dendroMin, y: b }],
  showLine: true, pointRadius: 0, borderColor: '#222', borderWidth: 4
}));
new Chart(place(118, 158, 1872, 1064), {
  type: 'scatter',
  data: { datasets: dendroSets },
  options: {
    layout: { autoPadding: false },
    scales: {
      x: { display: false, reverse: true, min: dendroMin, max: dendroMax },
      y: { display: false, reverse: true, min: 0, max: heatRows.length }
    }
  }
});

colourBar({
  left: 2003, top: 608, width: 39, height: 208, axis: 60, above: 16, below: 16,
  min: -4.2, max: 4.5, stops: heatStops, ticks: heatTicks, digits: 0,
  size: 26, color: '#334', padding: 14, dash: [8, 23, 8, 0],
  grid: { color: '#ffffff', lineWidth: 2, drawTicks: false, z: 1 }
});

// ---- panel B ----
new Chart(place(2100, 60, 1600, 1300), {
  type: 'bar',
  data: {
    labels: distanceNames,
    datasets: cellDatasets(distanceRows, v => ramp(distanceStops, v), { borderColor: '#a8a09e', borderWidth: 1.5, borderSkipped: false })
  },
  options: {
    indexAxis: 'y',
    layout: { padding: { top: 31, right: 57 } },
    scales: {
      x: {
        stacked: true, min: 0, max: distanceNames.length,
        afterBuildTicks: s => { s.ticks = distanceShortNames.map((_, i) => ({ value: i + .5 })); },
        afterFit: s => { s.height = 291; s.paddingLeft = 0; s.paddingRight = 0; },
        border: { display: false },
        grid: { drawOnChartArea: false, tickLength: 12, tickColor: '#333', tickWidth: 2 },
        ticks: { autoSkip: false, minRotation: 50, maxRotation: 50, padding: 2, color: '#222', font: { size: 43, style: 'italic' }, callback: (v, i) => distanceShortNames[i] }
      },
      y: {
        stacked: true,
        afterFit: fixVertical(464),
        border: { display: false },
        grid: { offset: false, drawOnChartArea: false, tickLength: 12, tickColor: '#333', tickWidth: 2 },
        ticks: { autoSkip: false, padding: 14, color: '#222', font: { size: 43 } }
      }
    }
  }
});

box(3713, 121, 47, 22, 'background:#feeee8');
colourBar({
  left: 3712, top: 163, width: 48, height: 969, axis: 170, above: 40, below: 10,
  min: 0, max: .923, reverse: true, stops: distanceStops, ticks: distanceTicks, digits: 1,
  size: 53, color: '#111', padding: 14,
  grid: { drawOnChartArea: false, tickLength: 12, tickColor: '#333', tickWidth: 2 }
});

// ---- panels C and D, spectra ----
spectrum(250, 1415, 1610, 2504, lungAdenoFreq, lungAdenoImp, lungAdenoTicks);
spectrum(1616, 2782, 1639, 2504, lungSccFreq, lungSccImp, lungSccTicks);
spectrum(275, 1441, 2982, 3807, kidneyRccFreq, kidneyRccImp, kidneyRccTicks);
spectrum(1616, 2782, 2951, 3806, kidneyChrccFreq, kidneyChrccImp, kidneyChrccTicks);

strip(244, 1647, 1164, 76, 66, -7, '#000');
strip(1611, 1647, 1165, 76, 66, -7, '#000');
strip(270, 2950, 1164, 74, 66, -6, '#000');
strip(1611, 2950, 1165, 74, 66, -6, '#000');

// importance legends sit on a white patch that hides the grid lines behind them
[[1745, 555, 1835], [3030, 530, 3145]].forEach(([top, height, barTop]) => {
  box(2494, top, 296, height, 'background:#fff');
  colourBar({
    left: 2529, top: barTop, width: 66, height: 338, axis: 150, above: 16, below: 24,
    min: 0, max: .07, stops: importanceStops, ticks: importanceTicks, digits: 2,
    size: 39, color: '#222', padding: 24, dash: [13, 40, 13, 0],
    grid: { color: '#ffffff', lineWidth: 2, drawTicks: false, z: 1 }
  });
  text('Importance', 2529, barTop - 43, 46);
});

// ---- venn diagrams ----
venn(2790, 1745);
venn(2790, 3045);
vennLegend(3392, 1567, 477, 145, 3408, 3533, ['Lung-AdenoCA', 'Lung-SCC']);
vennLegend(3400, 2868, 470, 144, 3420, 3542, ['Kidney-RCC', 'Kidney-ChRCC']);

[['SBS13', 3318, 2058], ['SBS3', 3318, 2143], ['SBS26', 3650, 1970], ['SBS6', 3650, 2055], ['SBS21', 3650, 2139], ['SBS36', 3650, 2223],
 ['SBS44', 2992, 3355], ['SBS14', 2992, 3440], ['SBS3', 3328, 3398], ['SBS15', 3646, 3355], ['SBS6', 3646, 3440]].forEach(([s, x, y]) => {
  text(s, x, y, 66, { weight: 'bold', center: true });
});

// ---- titles and panel letters ----
text('(A)', 25, 95, 122);
text('(B)', 2103, 95, 122);
text('(C)', 25, 1436, 122);
text('(D)', 25, 2750, 122);
text('Distance', 3672, 106, 54);
text('Lung-AdenoCA', 244, 1501, 78);
text('Lung-SCC', 1613, 1501, 78);
text('Kidney-RCC', 270, 2803, 78);
text('Kidney-ChRCC', 1613, 2803, 78);
[[109, 2057], [1474, 2057], [132, 3358], [1474, 3358]].forEach(([x, y]) => text('Frequency', x, y, 54, { rotate: -90 }));
</script>
</body>
</html>
